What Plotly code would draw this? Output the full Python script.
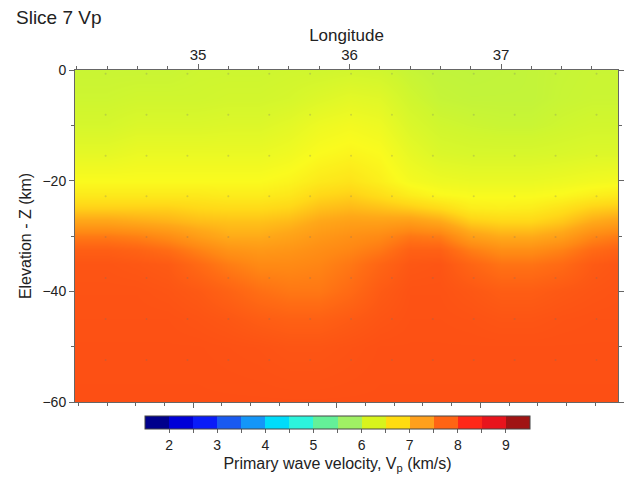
import plotly.graph_objects as go

# ---------------- data ----------------
title_text = "Slice 7 Vp"
x_title = "Longitude"
y_title = "Elevation - Z (km)"
cbar_title = "Primary wave velocity, V<sub>p</sub> (km/s)"

lon_ticks = [35, 36, 37]
z_ticks = [0, -20, -40, -60]
cbar_ticks = [2, 2.5, 3, 3.5, 4, 4.5, 5, 5.5, 6, 6.5, 7, 7.5, 8, 8.5, 9]
cbar_labels = ["2", "", "3", "", "4", "", "5", "", "6", "", "7", "", "8", "", "9"]

lons = [34.2, 34.4, 34.6, 34.8, 35.0, 35.2, 35.4, 35.6, 35.8, 36.0,
        36.2, 36.4, 36.6, 36.8, 37.0, 37.2, 37.4, 37.6, 37.8]
depths = [0, -5, -10, -15, -20, -22.5, -25, -27.5, -30, -32.5, -35, -40, -45, -50, -60]

vp_z00 = [6.05, 6.05, 6.05, 6.05, 6.08, 6.08, 6.08, 6.10, 6.10, 6.12, 6.10, 6.03, 5.99, 5.98, 5.99, 6.00, 6.03, 6.05, 6.05]
vp_z05 = [6.08, 6.08, 6.10, 6.10, 6.10, 6.12, 6.12, 6.15, 6.22, 6.28, 6.25, 6.10, 6.02, 6.00, 6.00, 6.00, 6.04, 6.06, 6.06]
vp_z10 = [6.15, 6.15, 6.20, 6.20, 6.20, 6.22, 6.22, 6.28, 6.38, 6.43, 6.38, 6.20, 6.10, 6.07, 6.05, 6.05, 6.09, 6.12, 6.12]
vp_z15 = [6.30, 6.30, 6.35, 6.35, 6.35, 6.35, 6.35, 6.40, 6.50, 6.55, 6.50, 6.32, 6.20, 6.17, 6.17, 6.17, 6.19, 6.22, 6.22]
vp_z20 = [6.50, 6.50, 6.50, 6.50, 6.50, 6.50, 6.50, 6.55, 6.65, 6.70, 6.60, 6.45, 6.38, 6.35, 6.35, 6.35, 6.38, 6.42, 6.45]
vp_z22 = [6.65, 6.65, 6.65, 6.65, 6.65, 6.62, 6.62, 6.67, 6.80, 6.85, 6.75, 6.62, 6.52, 6.48, 6.48, 6.48, 6.52, 6.60, 6.65]
vp_z25 = [6.85, 6.85, 6.85, 6.85, 6.80, 6.78, 6.78, 6.82, 6.95, 7.00, 6.95, 6.88, 6.78, 6.62, 6.60, 6.62, 6.72, 6.85, 6.90]
vp_z27 = [7.15, 7.15, 7.10, 7.05, 6.98, 6.95, 6.95, 7.00, 7.12, 7.18, 7.18, 7.22, 7.12, 6.88, 6.82, 6.82, 6.92, 7.10, 7.20]
vp_z30 = [7.50, 7.50, 7.45, 7.35, 7.20, 7.08, 7.08, 7.15, 7.25, 7.32, 7.38, 7.52, 7.48, 7.18, 7.08, 7.08, 7.18, 7.40, 7.50]
vp_z32 = [7.72, 7.72, 7.68, 7.60, 7.45, 7.30, 7.25, 7.28, 7.35, 7.42, 7.52, 7.70, 7.70, 7.48, 7.35, 7.35, 7.45, 7.62, 7.70]
vp_z35 = [7.80, 7.80, 7.78, 7.75, 7.62, 7.48, 7.38, 7.38, 7.42, 7.52, 7.66, 7.78, 7.80, 7.66, 7.55, 7.55, 7.62, 7.75, 7.80]
vp_z40 = [7.82, 7.82, 7.82, 7.80, 7.76, 7.68, 7.58, 7.52, 7.52, 7.62, 7.75, 7.82, 7.82, 7.78, 7.73, 7.73, 7.77, 7.80, 7.82]
vp_z45 = [7.83, 7.83, 7.83, 7.83, 7.81, 7.78, 7.73, 7.70, 7.70, 7.75, 7.80, 7.83, 7.83, 7.82, 7.80, 7.80, 7.82, 7.83, 7.83]
vp_z50 = [7.84, 7.84, 7.84, 7.84, 7.84, 7.83, 7.82, 7.80, 7.80, 7.82, 7.84, 7.84, 7.84, 7.84, 7.84, 7.84, 7.84, 7.84, 7.84]
vp_z60 = [7.85, 7.85, 7.85, 7.85, 7.85, 7.85, 7.85, 7.85, 7.85, 7.85, 7.85, 7.85, 7.85, 7.85, 7.85, 7.85, 7.85, 7.85, 7.85]

# faint background grid dots
dot_lons = [33.85, 34.12, 34.39, 34.66, 34.93, 35.20, 35.47, 35.74, 36.01,
            36.28, 36.55, 36.82, 37.09, 37.36, 37.63]
dot_depths = [6.7, -0.7, -8.1, -15.5, -22.8, -30.2, -37.6, -45.0, -52.4]

vmin, vmax = 1.5, 9.5

# continuous palette used for the section
smooth_knots = [(1.5, "#000080"), (2.5, "#0000f0"), (3.5, "#0060ff"), (4.5, "#00d8ff"),
                (5.0, "#40f0c8"), (5.4, "#78f088"), (5.8, "#a8f050"), (6.1, "#d0f62e"),
                (6.5, "#fafa1e"), (6.8, "#ffd818"), (7.1, "#ffa818"), (7.4, "#ff8814"),
                (7.6, "#ff6c14"), (7.8, "#fd5514"), (8.25, "#ff2010"), (8.75, "#e01010"),
                (9.5, "#a00000")]
# discrete palette shown in the colour bar (0.5 km/s bins)
bin_colors = ["#00008c", "#0000d8", "#0a1cf8", "#1a5af0", "#1496f8", "#00dcfa",
              "#2cf4dc", "#64f098", "#a0f064", "#d8f41c", "#ffdc10", "#ffa01c",
              "#ff6414", "#ff2818", "#e8141c", "#a01414"]

# ---------------- build figure ----------------
vp_rows = [vp_z00, vp_z05, vp_z10, vp_z15, vp_z20, vp_z22, vp_z25, vp_z27,
           vp_z30, vp_z32, vp_z35, vp_z40, vp_z45, vp_z50, vp_z60]

smooth_scale = [[(v - vmin) / (vmax - vmin), c] for v, c in smooth_knots]
n = len(bin_colors)
step_scale = []
for i, c in enumerate(bin_colors):
    step_scale.append([i / n, c])
    step_scale.append([(i + 1) / n, c])

font_family = "Liberation Sans, Arial, Helvetica, sans-serif"
axis_col = "#666666"

fig = go.Figure()

fig.add_trace(go.Heatmap(
    x=lons, y=depths, z=vp_rows, zmin=vmin, zmax=vmax,
    colorscale=smooth_scale, zsmooth="best", showscale=False,
    hovertemplate="Lon %{x}<br>Z %{y} km<br>Vp %{z}<extra></extra>",
))

dx, dy = [], []
for d in dot_depths:
    for l in dot_lons:
        dx.append(l)
        dy.append(d)
fig.add_trace(go.Scatter(
    x=dx, y=dy, mode="markers", cliponaxis=False, hoverinfo="skip",
    marker=dict(size=2, color="rgba(110,110,110,0.25)"), showlegend=False,
))

# colour-bar carrier (placed outside the visible range of the bottom axis)
fig.add_trace(go.Heatmap(
    x=[-1000, -999], y=[-30, -29], z=[[vmin, vmax], [vmin, vmax]],
    xaxis="x2", yaxis="y", zmin=vmin, zmax=vmax, colorscale=step_scale,
    hoverinfo="skip", showscale=True,
    colorbar=dict(
        orientation="h", x=0.4834, xanchor="center", y=-0.041, yanchor="top",
        lenmode="pixels", len=385, thickness=13, xpad=0, ypad=0,
        outlinewidth=1, outlinecolor="#444444",
        tickmode="array", tickvals=cbar_ticks, ticktext=cbar_labels,
        ticks="outside", ticklen=4, tickcolor=axis_col,
        tickfont=dict(size=14, color="#222222", family=font_family),
        title=dict(text=cbar_title, side="bottom",
                   font=dict(size=16, color="#222222", family=font_family)),
    ),
))

fig.update_layout(
    width=628, height=477,
    margin=dict(l=75, r=10, t=70, b=75, autoexpand=False),
    paper_bgcolor="white", plot_bgcolor="white",
    font=dict(family=font_family, color="#222222"),
    showlegend=False,
    xaxis=dict(
        range=[34.188, 37.772], side="top", anchor="y",
        tickmode="array", tickvals=lon_ticks, ticks="outside", ticklen=5,
        tickcolor=axis_col, showline=True, linecolor=axis_col, linewidth=1,
        showgrid=False, zeroline=False,
        tickfont=dict(size=15), ticklabelstandoff=-2,
        minor=dict(dtick=0.2, tick0=35, ticks="outside", ticklen=3,
                   tickcolor=axis_col, showgrid=False),
        title=dict(text=x_title, standoff=0, font=dict(size=17)),
    ),
    xaxis2=dict(
        range=[-82.3, 295.9], overlaying="x", side="bottom", anchor="y",
        dtick=100, tick0=0, ticks="outside", ticklen=5, tickcolor=axis_col,
        showticklabels=False, showline=True, linecolor=axis_col, linewidth=1,
        showgrid=False, zeroline=False,
        minor=dict(dtick=20, tick0=0, ticks="outside", ticklen=3,
                   tickcolor=axis_col, showgrid=False),
    ),
    yaxis=dict(
        range=[-60, 0], tickmode="array", tickvals=z_ticks, ticks="outside",
        ticklen=5, tickcolor=axis_col, showline=True, linecolor=axis_col,
        linewidth=1, mirror="ticks", showgrid=False, zeroline=False,
        tickfont=dict(size=14),
        minor=dict(dtick=10, tick0=0, ticks="outside", ticklen=3,
                   tickcolor=axis_col, showgrid=False),
        title=dict(text=y_title, standoff=6, font=dict(size=16)),
    ),
    annotations=[dict(
        text=title_text, xref="paper", yref="paper", x=-0.1123, y=1.1596,
        xanchor="left", yanchor="middle", showarrow=False,
        font=dict(size=19, color="#222222"),
    )],
)

fig.write_html("out.html")
